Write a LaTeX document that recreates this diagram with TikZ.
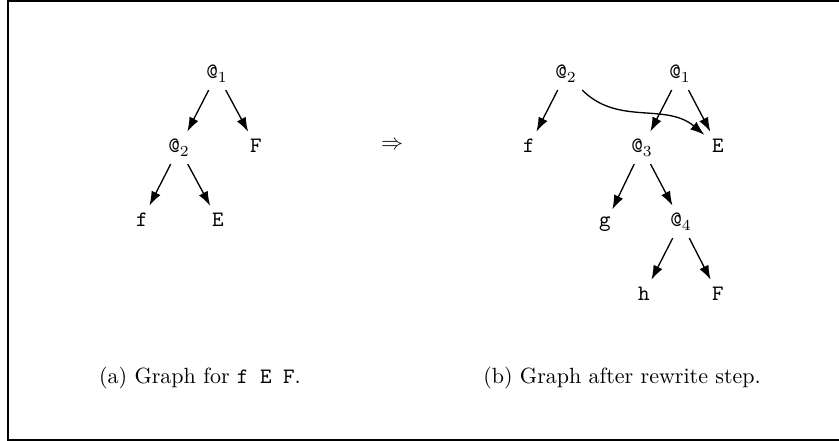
\documentclass[tikz,border=0pt]{standalone}
\usepackage{amsmath,amssymb}
\usepackage{tikz}
\usetikzlibrary{arrows.meta,positioning}

\begin{document}
\begin{tikzpicture}[x=0.4545pt, y=-0.4545pt,
    tnode/.style={font=\ttfamily, anchor=base},
    edge/.style={-{Latex[length=6.5pt,width=4.5pt]}, line width=0.6pt}]
        \useasboundingbox (0,0) rectangle (839,441);
        % Frame
        \draw[line width=0.9pt] (850,1) -- (8.3,1) -- (8.3,440.3) -- (850,440.3);
        % Graph for f E F
        \node[tnode] (la1) at (217,79) {@$_1$};
        \node[tnode] (la2) at (179,153) {@$_2$};
        \node[tnode] (lF) at (256,153) {F};
        \node[tnode] (lf) at (142,227) {f};
        \node[tnode] (lE) at (218,227) {E};
        \draw[edge] (la1) -- (la2);
        \draw[edge] (la1) -- (lF);
        \draw[edge] (la2) -- (lf);
        \draw[edge] (la2) -- (lE);
        % Rewrites to
        \node[anchor=base] (to) at (392,149.5) {$\Rightarrow$};
        % Graph after the step
        \node[tnode] (ra2) at (566,79) {@$_2$};
        \node[tnode] (ra1) at (680,79) {@$_1$};
        \node[tnode] (rf) at (529,153) {f};
        \node[tnode] (ra3) at (642,153) {@$_3$};
        \node[tnode] (rE) at (718,153) {E};
        \node[tnode] (rg) at (605,227) {g};
        \node[tnode] (ra4) at (681,227) {@$_4$};
        \node[tnode] (rh) at (644,301) {h};
        \node[tnode] (rF) at (718,301) {F};
        \draw[edge] (ra2) -- (rf);
        \draw[edge] (ra2) to[out=-45, in=140] (rE);
        \draw[edge] (ra1) -- (ra3);
        \draw[edge] (ra1) -- (rE);
        \draw[edge] (ra3) -- (rg);
        \draw[edge] (ra3) -- (ra4);
        \draw[edge] (ra4) -- (rh);
        \draw[edge] (ra4) -- (rF);
        % Captions
        \node[anchor=base] (capa) at (200,384) {(a) Graph for \texttt{f E F}.};
        \node[anchor=base] (capb) at (622,384) {(b) Graph after rewrite step.};
\end{tikzpicture}
\end{document}
